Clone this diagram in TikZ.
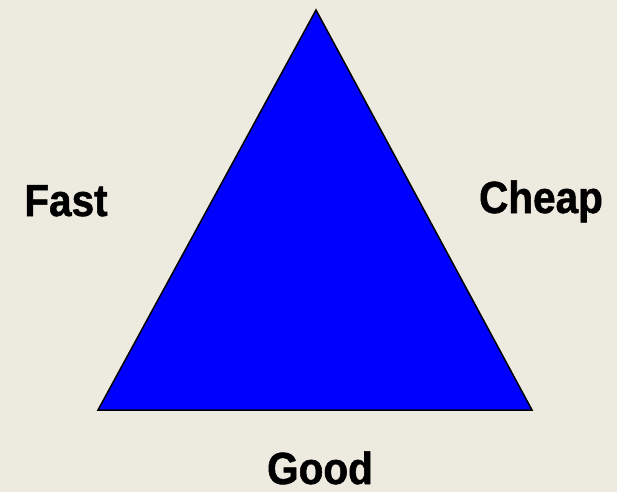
\documentclass[tikz,border=0pt]{standalone}
\usepackage{fontspec}
\setmainfont{Liberation Sans}
\newfontfamily\tallsans[FakeStretch=0.9, BoldFeatures={FakeBold=1.2}]{Liberation Sans}
\usepackage{xcolor}
\usepackage{tikz}

\definecolor{paper}{RGB}{237,235,224}
\definecolor{triblue}{RGB}{0,0,255}

\begin{document}
\begin{tikzpicture}[x=1pt,y=-1pt,
    word/.style={font=\tallsans\fontsize{45}{45}\selectfont\bfseries, inner sep=0pt, anchor=base}]
    % Background
    \fill[paper] (0,0) rectangle (617,492);
    \useasboundingbox (0,0) rectangle (617,492);

    % Corners of the triangle
    \coordinate (apex) at (316,10);
    \coordinate (left) at (98,410);
    \coordinate (right) at (532,410);

    % Draw the triangle
    \draw[fill=triblue, line width=1.5pt, line join=miter] (apex) -- (left) -- (right) -- cycle;

    % Add the text
    \node[word] (fast) at (66,216) {Fast};
    \node[word] (cheap) at (541,213) {Cheap};
    \node[word] (good) at (320,484) {Good};
\end{tikzpicture}
\end{document}
